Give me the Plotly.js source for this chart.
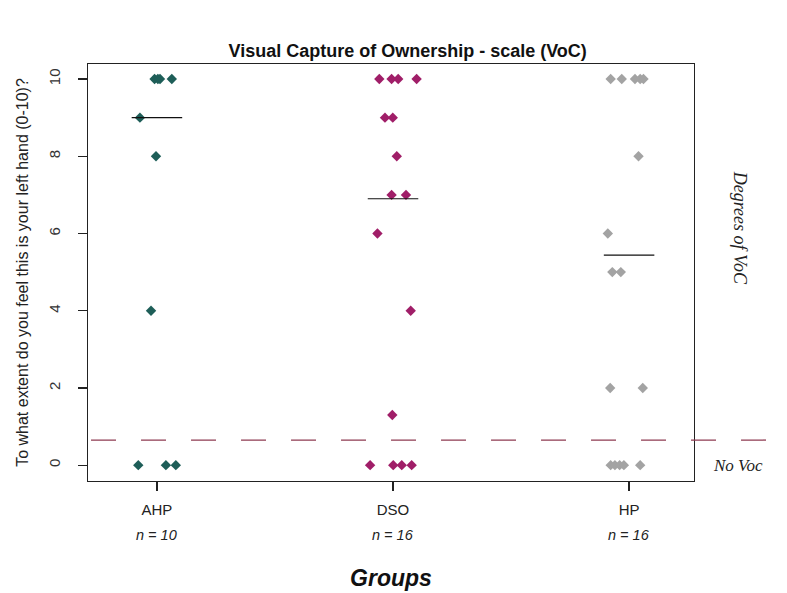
<!DOCTYPE html>
<html>
<head>
<meta charset="utf-8">
<script src="https://cdn.plot.ly/plotly-3.0.1.min.js"></script>
<style>html,body{margin:0;padding:0;background:#fff;}#chart{width:787px;height:593px;}</style>
</head>
<body>
<div id="chart"></div>
<script>
// ---- data ----
const groups = ["AHP", "DSO", "HP"];
const groupN = ["n = 10", "n = 16", "n = 16"];
const groupColors = ["#1E5E58", "#A01E68", "#A3A3A3"];

const ahpValues = [10, 10, 10, 10, 9, 8, 4, 0, 0, 0];
const ahpJitter = [-0.01, 0.004, 0.013, 0.063, -0.072, -0.004, -0.025, -0.079, 0.038, 0.08];

const dsoValues = [10, 10, 10, 10, 9, 9, 8, 7, 7, 6, 4, 1.3, 0, 0, 0, 0];
const dsoJitter = [-0.058, -0.006, 0.022, 0.1, -0.034, -0.001, 0.016, -0.006, 0.055, -0.066, 0.075, -0.003, -0.097, 0.001, 0.037, 0.079];

const hpValues = [10, 10, 10, 10, 10, 8, 6, 5, 5, 2, 2, 0, 0, 0, 0, 0];
const hpJitter = [-0.078, -0.031, 0.025, 0.047, 0.061, 0.04, -0.09, -0.071, -0.035, -0.08, 0.058, -0.078, -0.06, -0.04, -0.022, 0.047];

const centreLines = [9, 6.9, 5.44];
const noVocThreshold = 0.65;

const yTicks = [0, 2, 4, 6, 8, 10];

// ---- build traces ----
const allValues = [ahpValues, dsoValues, hpValues];
const allJitter = [ahpJitter, dsoJitter, hpJitter];
const halfWidth = 0.107;

const traces = [];
groups.forEach((g, i) => {
  traces.push({
    type: "scatter", mode: "markers", name: g,
    x: allJitter[i].map(j => i + 1 + j),
    y: allValues[i],
    marker: {symbol: "diamond", size: 8, color: groupColors[i], line: {width: 0}},
    hoverinfo: "y", showlegend: false
  });
});
groups.forEach((g, i) => {
  traces.push({
    type: "scatter", mode: "lines",
    x: [i + 1 - halfWidth, i + 1 + halfWidth],
    y: [centreLines[i], centreLines[i]],
    line: {color: "#111", width: 1.2},
    hoverinfo: "skip", showlegend: false
  });
});

const font = "Liberation Sans, Arial, sans-serif";
const serif = "Liberation Serif, DejaVu Serif, serif";

const annotations = groups.map((g, i) => ({
  x: i + 1, xref: "x", y: -0.13, yref: "paper",
  text: "<i>" + groupN[i] + "</i>", showarrow: false,
  font: {family: font, size: 14.5, color: "#222"},
  xanchor: "center", yanchor: "middle"
}));
annotations.push({
  x: 1.076, xref: "paper", y: 6.15, yref: "y",
  text: "<i>Degrees of VoC</i>", showarrow: false, textangle: 90,
  font: {family: serif, size: 18, color: "#222"},
  xanchor: "center", yanchor: "middle"
});
annotations.push({
  x: 1.072, xref: "paper", y: 0.0, yref: "y",
  text: "<i>No Voc</i>", showarrow: false,
  font: {family: serif, size: 17, color: "#222"},
  xanchor: "center", yanchor: "middle"
});

const layout = {
  width: 787, height: 593,
  margin: {l: 88, r: 93, t: 64, b: 112},
  paper_bgcolor: "#fff", plot_bgcolor: "#fff",
  title: {
    text: "<b>Visual Capture of Ownership - scale (VoC)</b>",
    font: {family: font, size: 18, color: "#111"},
    x: 0.518, xanchor: "center", y: 0.915, yanchor: "middle"
  },
  xaxis: {
    range: [0.708, 3.275],
    tickvals: [1, 2, 3], ticktext: groups,
    ticks: "outside", ticklen: 9, tickcolor: "#222", tickwidth: 1.3,
    showline: true, mirror: true, linecolor: "#222", linewidth: 1.3,
    showgrid: false, zeroline: false,
    tickfont: {family: font, size: 15, color: "#222"},
    ticklabelstandoff: 6,
    title: {text: "<b><i>Groups</i></b>", font: {family: font, size: 23, color: "#111"}, standoff: 52}
  },
  yaxis: {
    range: [-0.41, 10.39],
    tickvals: yTicks, ticktext: yTicks.map(String),
    tickangle: -90,
    ticks: "outside", ticklen: 9, tickcolor: "#222", tickwidth: 1.3,
    showline: true, mirror: true, linecolor: "#222", linewidth: 1.3,
    showgrid: false, zeroline: false,
    tickfont: {family: font, size: 15, color: "#333"},
    ticklabelstandoff: 12,
    title: {text: "To what extent do you feel this is your left hand (0-10)?", font: {family: font, size: 16, color: "#222"}, standoff: 13}
  },
  shapes: [{
    type: "line", xref: "paper", yref: "y",
    x0: 0.005, x1: 1.155, y0: noVocThreshold, y1: noVocThreshold,
    line: {color: "#8E3B52", width: 1.3, dash: "25px,25px"}
  }],
  annotations: annotations
};

Plotly.newPlot("chart", traces, layout, {displayModeBar: false, staticPlot: true});
</script>
</body>
</html>
